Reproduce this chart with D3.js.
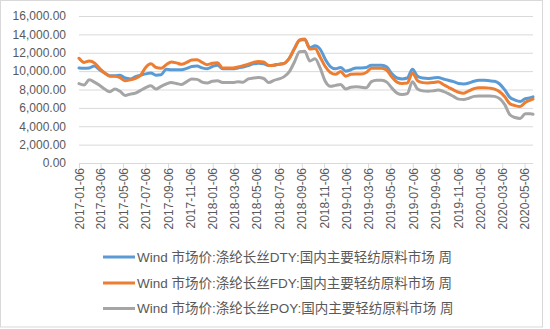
<!DOCTYPE html>
<html><head><meta charset="utf-8">
<script src="https://cdn.jsdelivr.net/npm/d3@7/dist/d3.min.js"></script>
<style>
html,body{margin:0;padding:0;background:#fff;}
text{font-family:"Liberation Sans",Arial,"Noto Sans CJK SC",sans-serif;fill:#595959;}
</style></head>
<body><svg id="c" width="550" height="329"></svg>
<script>
const dates = ["2017-01-06","2017-01-20","2017-02-03","2017-02-17","2017-03-03","2017-03-17","2017-03-31","2017-04-14","2017-04-28","2017-05-12","2017-05-26","2017-06-09","2017-06-23","2017-07-07","2017-07-21","2017-08-04","2017-08-18","2017-09-01","2017-09-15","2017-09-29","2017-10-13","2017-10-27","2017-11-10","2017-11-24","2017-12-08","2017-12-22",
"2018-01-05","2018-01-19","2018-02-02","2018-02-16","2018-03-02","2018-03-16","2018-03-30","2018-04-13","2018-04-27","2018-05-11","2018-05-25","2018-06-08","2018-06-22","2018-07-06","2018-07-20","2018-08-03","2018-08-17","2018-08-31","2018-09-14","2018-09-28","2018-10-12","2018-10-26","2018-11-09","2018-11-23","2018-12-07","2018-12-21",
"2019-01-04","2019-01-18","2019-02-01","2019-02-15","2019-03-01","2019-03-15","2019-03-29","2019-04-12","2019-04-26","2019-05-10","2019-05-24","2019-06-07","2019-06-21","2019-07-05","2019-07-19","2019-08-02","2019-08-16","2019-08-30","2019-09-13","2019-09-27","2019-10-11","2019-10-25","2019-11-08","2019-11-22","2019-12-06","2019-12-20",
"2020-01-03","2020-01-17","2020-01-31","2020-02-14","2020-02-28","2020-03-13","2020-03-27","2020-04-10","2020-04-24","2020-05-08","2020-05-22","2020-05-29"];

const dty = [10350,10300,10350,10550,10150,9800,9500,9500,9550,9250,9150,9400,9550,9700,9800,9550,9600,10200,10150,10150,10150,10300,10500,10550,10350,10250,
10500,10650,10250,10250,10250,10350,10450,10600,10800,10850,10800,10600,10650,10750,10850,11400,12450,13350,13450,12550,12750,12400,11300,10500,10250,10400,
10000,10150,10350,10350,10400,10650,10650,10650,10450,9700,9250,9150,9250,10200,9450,9250,9200,9250,9300,9150,9000,8850,8650,8600,8700,8900,
9000,9000,8950,8900,8600,7950,7150,6850,6700,7000,7100,7200];

const fdy = [11400,10950,11100,10900,10300,9800,9450,9450,9300,8950,9050,9200,9550,10400,10800,10400,10300,10700,11000,10900,10750,10950,11200,11250,10950,10700,
10850,10900,10350,10350,10350,10450,10600,10750,10950,11050,11000,10600,10650,10750,10850,11400,12450,13400,13500,12400,12450,11550,10500,9850,9650,9950,
9450,9650,9700,9700,9850,10300,10300,10300,10100,9350,8800,8650,8700,9800,8950,8750,8700,8750,8850,8550,8250,7950,7700,7600,7850,8100,
8200,8200,8150,8050,7750,7200,6450,6250,6150,6600,6850,6950];

const poy = [8650,8500,9050,8800,8450,8050,7750,8050,7800,7350,7500,7600,7900,8200,8400,8050,8350,8600,8750,8650,8550,8850,9150,9100,8800,8700,
8900,8950,8750,8750,8750,8850,8800,9150,9250,9300,9200,8750,9000,9150,9400,9950,11000,12100,12150,11100,11350,10350,8900,8350,8450,8550,
8050,8250,8300,8250,8200,8850,9000,9000,8800,8150,7600,7450,7550,8850,8050,7850,7800,7850,7950,7800,7550,7250,6950,6900,7050,7250,
7300,7300,7300,7250,7000,6350,5250,4950,4850,5350,5350,5300];

const yTicks = [0,2000,4000,6000,8000,10000,12000,14000,16000];
const xTickLabels = ["2017-01-06","2017-03-06","2017-05-06","2017-07-06","2017-09-06","2017-11-06","2018-01-06","2018-03-06","2018-05-06","2018-07-06","2018-09-06","2018-11-06","2019-01-06","2019-03-06","2019-05-06","2019-07-06","2019-09-06","2019-11-06","2020-01-06","2020-03-06","2020-05-06"];
const seriesNames = ["Wind 市场价:涤纶长丝DTY:国内主要轻纺原料市场 周","Wind 市场价:涤纶长丝FDY:国内主要轻纺原料市场 周","Wind 市场价:涤纶长丝POY:国内主要轻纺原料市场 周"];
const colors = ["#5B9BD5","#ED7D31","#A5A5A5"];

const parse = d3.utcParse("%Y-%m-%d");
const svg = d3.select("#c");
const W = 550, H = 329;
const L = 79, R = 533, T = 16, B = 163;

svg.append("rect").attr("x",0.5).attr("y",0.5).attr("width",542).attr("height",326.5)
  .attr("fill","#fff").attr("stroke","#d9d9d9").attr("stroke-width",1);

const x = d3.scaleUtc().domain([parse(dates[0]), parse(dates[dates.length-1])]).range([L,R]);
const y = d3.scaleLinear().domain([0,16000]).range([B,T]);

// gridlines
const yAxis = d3.axisLeft(y).tickValues(yTicks).tickSize(-(R-L)).tickPadding(13)
  .tickFormat(d3.format(",.2f"));
const gy = svg.append("g").attr("transform",`translate(${L},0)`).call(yAxis);
gy.select(".domain").remove();
gy.selectAll(".tick line").attr("stroke","#d9d9d9").attr("stroke-width",1);
gy.selectAll(".tick text").attr("font-size","12px").attr("fill","#595959")
  .style("font-family","'Liberation Sans',Arial,sans-serif");

// x axis
const xt = xTickLabels.map(parse);
const xAxis = d3.axisBottom(x).tickValues(xt).tickSize(5).tickFormat(d3.utcFormat("%Y-%m-%d"));
const gx = svg.append("g").attr("transform",`translate(0,${B})`).call(xAxis);
gx.select(".domain").attr("stroke","#d9d9d9").attr("d",`M${L},0.5H${R}`);
gx.selectAll(".tick line").attr("stroke","#d9d9d9");
gx.selectAll(".tick text").attr("font-size","12px").attr("fill","#595959")
  .style("font-family","'Liberation Sans',Arial,sans-serif")
  .attr("text-anchor","end").attr("transform","translate(0,5) rotate(-90)")
  .attr("x",0).attr("y",0).attr("dy","0.35em");

// lines
const data = [dty,fdy,poy];
const line = d3.line().x((d,i)=>x(parse(dates[i]))).y(d=>y(d)).curve(d3.curveMonotoneX);
data.forEach((s,k)=>{
  svg.append("path").datum(s).attr("d",line).attr("fill","none")
    .attr("stroke",colors[k]).attr("stroke-width",3).attr("stroke-linejoin","round").attr("stroke-linecap","round");
});

// legend
const legY = [257, 283, 308.5];
seriesNames.forEach((n,k)=>{
  const g = svg.append("g").attr("transform",`translate(0,${legY[k]})`);
  g.append("line").attr("x1",103).attr("x2",135).attr("y1",0).attr("y2",0)
    .attr("stroke",colors[k]).attr("stroke-width",3);
  g.append("text").attr("x",137).attr("y",0).attr("dy","0.36em")
    .attr("font-size","13.5px").attr("fill","#595959").text(n);
});
</script></body></html>
